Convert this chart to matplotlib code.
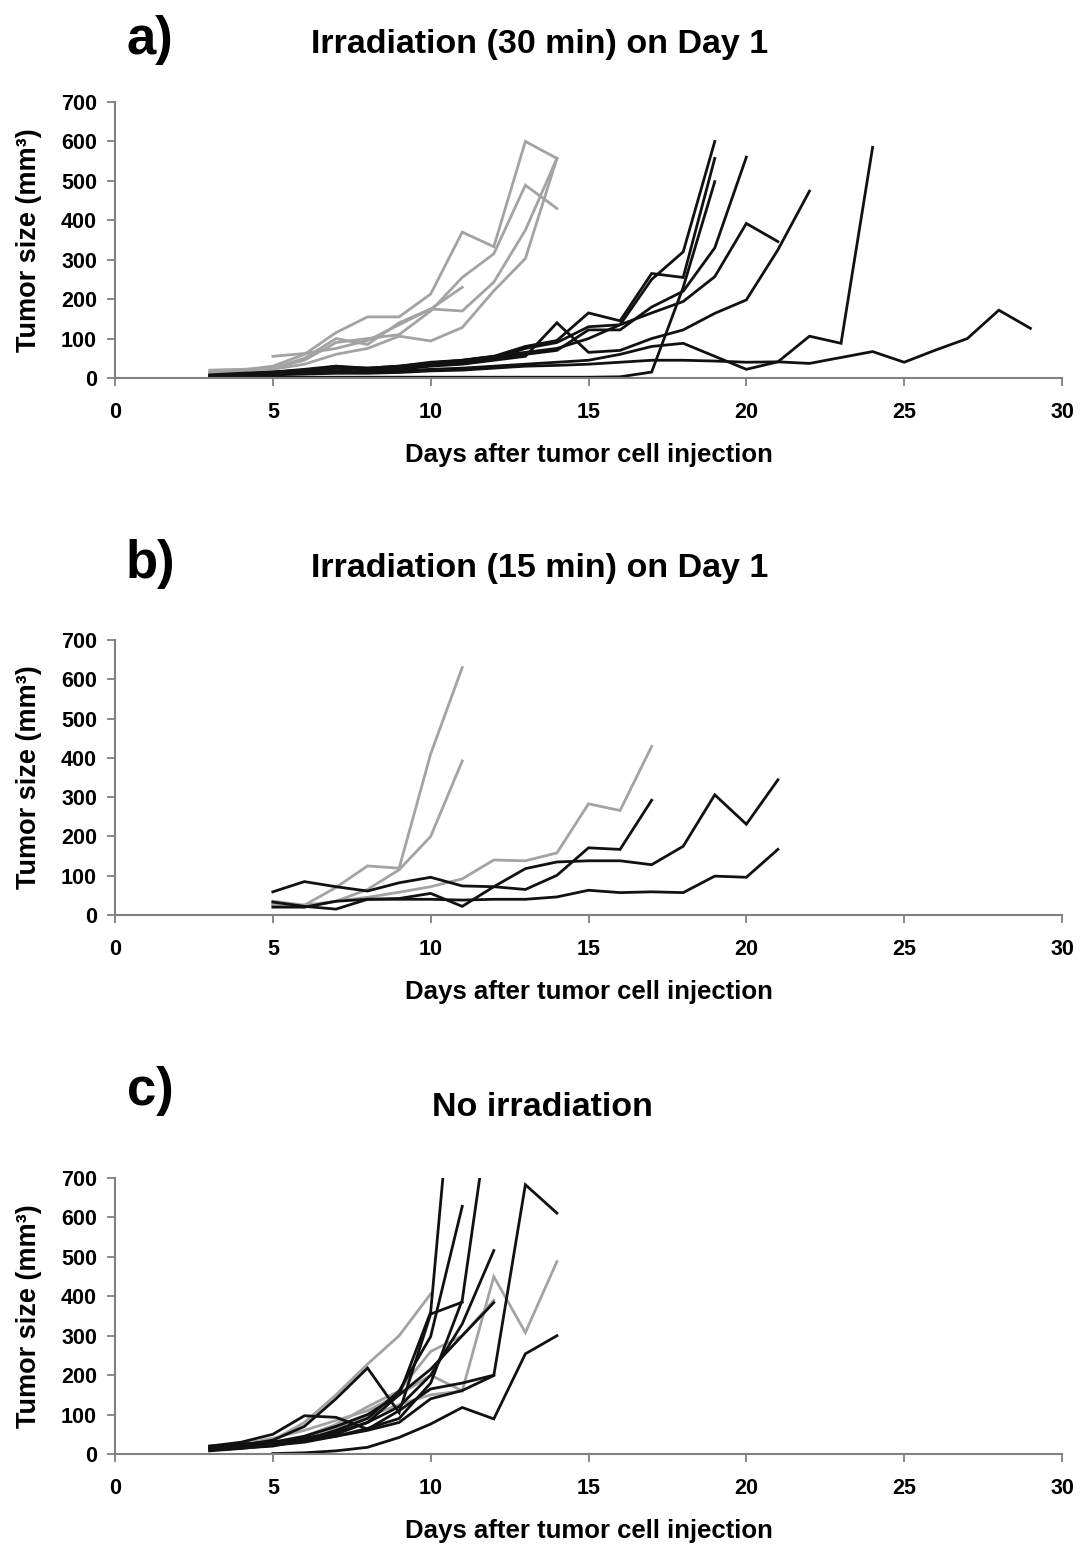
import matplotlib
matplotlib.use("Agg")
import matplotlib.pyplot as plt

plt.rcParams['font.family'] = ['Liberation Sans', 'DejaVu Sans']
plt.rcParams['font.weight'] = 'bold'

# ---------------- Panel a: Irradiation (30 min) on Day 1 ----------------
a_grey_days = [
    [3, 4, 5, 6, 7, 8, 9, 10, 11, 12, 13, 14],
    [3, 4, 5, 6, 7, 8, 9, 10, 11, 12, 13, 14],
    [3, 4, 5, 6, 7, 8, 9, 10, 11, 12, 13, 14],
    [5, 6, 7, 8, 9, 10, 11],
    [3, 4, 5, 6, 7, 8, 9, 10, 11, 12, 13, 14],
]
a_grey_vals = [
    [15, 20, 30, 60, 115, 155, 155, 213, 370, 333, 600, 557],
    [20, 22, 25, 45, 90, 100, 110, 170, 255, 315, 489, 430],
    [12, 18, 22, 35, 60, 75, 106, 94, 128, 221, 303, 557],
    [55, 62, 75, 95, 135, 175, 230],
    [15, 18, 25, 50, 100, 85, 140, 175, 170, 243, 375, 557],
]
a_black_days = [
    list(range(3, 20)),
    list(range(3, 20)),
    list(range(3, 20)),
    list(range(3, 21)),
    list(range(3, 22)),
    list(range(3, 23)),
    list(range(3, 25)),
    list(range(3, 30)),
]
a_black_vals = [
    [8, 12, 15, 20, 25, 20, 25, 35, 40, 50, 75, 90, 130, 135, 250, 320, 600],
    [5, 10, 15, 22, 30, 25, 30, 40, 45, 55, 80, 95, 165, 145, 265, 255, 557],
    [1, 1, 2, 2, 2, 2, 2, 2, 2, 2, 2, 2, 2, 3, 15, 230, 498],
    [5, 10, 14, 18, 25, 22, 28, 35, 40, 50, 60, 70, 122, 122, 180, 220, 330, 560],
    [6, 10, 14, 20, 28, 25, 30, 38, 45, 55, 65, 75, 100, 135, 165, 194, 257, 392, 346],
    [4, 8, 12, 16, 30, 20, 22, 30, 35, 45, 55, 140, 65, 70, 100, 122, 164, 198, 325, 474],
    [3, 6, 10, 14, 18, 15, 18, 22, 25, 30, 35, 40, 45, 60, 80, 88, 55, 22, 41, 106, 88, 585],
    [3, 5, 8, 10, 12, 12, 14, 18, 20, 25, 30, 32, 35, 40, 45, 45, 43, 40, 41, 37, 52, 67, 40, 71, 100, 172, 126],
]

# ---------------- Panel b: Irradiation (15 min) on Day 1 ----------------
b_grey_days = [
    [5, 6, 7, 8, 9, 10, 11],
    [5, 6, 7, 8, 9, 10, 11],
    list(range(5, 18)),
]
b_grey_vals = [
    [35, 25, 70, 125, 119, 410, 630],
    [28, 20, 35, 65, 115, 200, 392],
    [25, 25, 35, 45, 58, 72, 92, 140, 138, 158, 283, 266, 429],
]
b_black_days = [
    list(range(5, 22)),
    list(range(5, 22)),
    list(range(5, 18)),
]
b_black_vals = [
    [33, 22, 15, 40, 42, 55, 22, 72, 118, 135, 138, 138, 128, 175, 306, 231, 344],
    [20, 20, 35, 40, 40, 40, 38, 40, 40, 46, 63, 57, 59, 57, 99, 96, 167],
    [59, 85, 72, 61, 82, 96, 74, 72, 65, 101, 171, 167, 292],
]

# ---------------- Panel c: No irradiation ----------------
c_grey_days = [
    [3, 4, 5, 6, 7, 8, 9, 10],
    list(range(3, 15)),
    list(range(3, 13)),
    list(range(3, 12)),
]
c_grey_vals = [
    [15, 22, 35, 80, 150, 228, 300, 406],
    [15, 25, 40, 60, 85, 110, 150, 200, 160, 450, 308, 488],
    [12, 18, 25, 45, 75, 120, 160, 260, 300, 390],
    [10, 15, 25, 40, 65, 95, 125, 150, 160],
]
c_black_days = [
    list(range(3, 12)),
    list(range(3, 12)),
    list(range(3, 12)),
    list(range(3, 13)),
    list(range(3, 13)),
    list(range(3, 13)),
    list(range(3, 15)),
    list(range(5, 15)),
    list(range(3, 13)),
]
c_black_vals = [
    [15, 22, 35, 70, 140, 218, 105, 355, 385],
    [10, 20, 30, 45, 70, 100, 150, 360, 1240],
    [10, 15, 20, 35, 60, 90, 160, 298, 628],
    [8, 14, 22, 30, 45, 65, 90, 180, 390, 950],
    [18, 25, 30, 40, 55, 80, 120, 200, 330, 516],
    [12, 20, 28, 35, 50, 80, 150, 215, 300, 384],
    [20, 25, 30, 35, 45, 60, 80, 140, 161, 199, 683, 611],
    [1, 3, 8, 17, 42, 76, 118, 89, 254, 300],
    [20, 30, 50, 97, 93, 63, 110, 165, 180, 200],
]

x_ticks = [0, 5, 10, 15, 20, 25, 30]
y_ticks = [0, 100, 200, 300, 400, 500, 600, 700]
panel_letters = ['a)', 'b)', 'c)']
panel_titles = ['Irradiation (30 min) on Day 1', 'Irradiation (15 min) on Day 1', 'No irradiation']
x_label = 'Days after tumor cell injection'
y_label = 'Tumor size (mm\u00b3)'

GREY = '#a3a3a3'
BLACK = '#111111'
AXC = '#808080'

W, H = 1083, 1546
fig = plt.figure(figsize=(W / 100, H / 100), dpi=100)

rects = [
    [115 / W, 1 - 378 / H, 947 / W, 276 / H],
    [115 / W, 1 - 915 / H, 947 / W, 275 / H],
    [115 / W, 1 - 1454 / H, 947 / W, 276 / H],
]
letter_pos = [(150, 40), (150, 564), (150, 1091)]
title_pos = [(540, 45), (540, 568), (542, 1108)]

data = [
    (a_grey_days, a_grey_vals, a_black_days, a_black_vals),
    (b_grey_days, b_grey_vals, b_black_days, b_black_vals),
    (c_grey_days, c_grey_vals, c_black_days, c_black_vals),
]

for i, rect in enumerate(rects):
    ax = fig.add_axes(rect)
    gd, gv, bd, bv = data[i]
    for d, v in zip(gd, gv):
        ax.plot(d, v, color=GREY, lw=2.0, solid_joinstyle='miter')
    for d, v in zip(bd, bv):
        ax.plot(d, v, color=BLACK, lw=2.0, solid_joinstyle='miter')
    ax.set_xlim(0, 30)
    ax.set_ylim(0, 700)
    ax.set_xticks(x_ticks)
    ax.set_yticks(y_ticks)
    ax.set_xticklabels([str(t) for t in x_ticks], fontsize=15.5, fontweight='bold')
    ax.set_yticklabels([str(t) for t in y_ticks], fontsize=15.5, fontweight='bold')
    for s in ['top', 'right']:
        ax.spines[s].set_visible(False)
    for s in ['left', 'bottom']:
        ax.spines[s].set_color(AXC)
        ax.spines[s].set_linewidth(1.5)
    ax.tick_params(axis='x', direction='out', length=6, width=1.3, color=AXC, pad=11)
    ax.tick_params(axis='y', direction='out', length=6, width=1.3, color=AXC, pad=7)
    ax.set_xlabel(x_label, fontsize=18.5, fontweight='bold')
    ax.xaxis.set_label_coords(0.5, -0.235)
    ax.set_ylabel(y_label, fontsize=19.5, fontweight='bold')
    ax.yaxis.set_label_coords(-0.077, 0.5)
    lx, ly = letter_pos[i]
    fig.text(lx / W, 1 - ly / H, panel_letters[i], fontsize=38, fontweight='bold',
             ha='center', va='center')
    tx, ty = title_pos[i]
    fig.text(tx / W, 1 - ty / H, panel_titles[i], fontsize=24.5, fontweight='bold',
             ha='center', va='center')

fig.savefig('out.png', dpi=100, facecolor='white')
